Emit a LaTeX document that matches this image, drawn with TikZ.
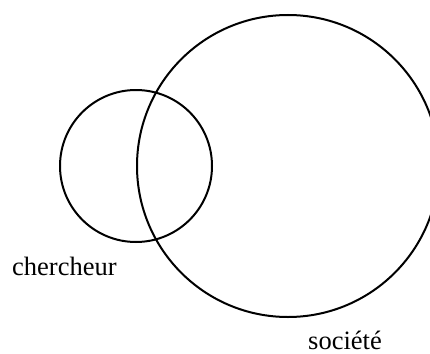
\documentclass[tikz,border=0pt]{standalone}
\usepackage{fontspec}
\setmainfont{Liberation Serif}
\begin{document}
\begin{tikzpicture}[x=1pt,y=-1pt,
  ring/.style={draw=black,line width=2pt},
  lbl/.style={inner sep=0pt,anchor=base west,font=\fontsize{26.5}{30}\selectfont}]
\useasboundingbox (0,0) rectangle (430,353);
\clip (0,0) rectangle (430,353);
\node[ring,circle,minimum size=152pt,inner sep=0pt] (chercheurC) at (136,166) {};
\node[ring,circle,minimum size=302pt,inner sep=0pt] (societeC) at (288,166) {};
\node[lbl] (chercheur) at (12,275) {chercheur};
\node[lbl] (societe) at (308,349) {société};
\end{tikzpicture}
\end{document}
